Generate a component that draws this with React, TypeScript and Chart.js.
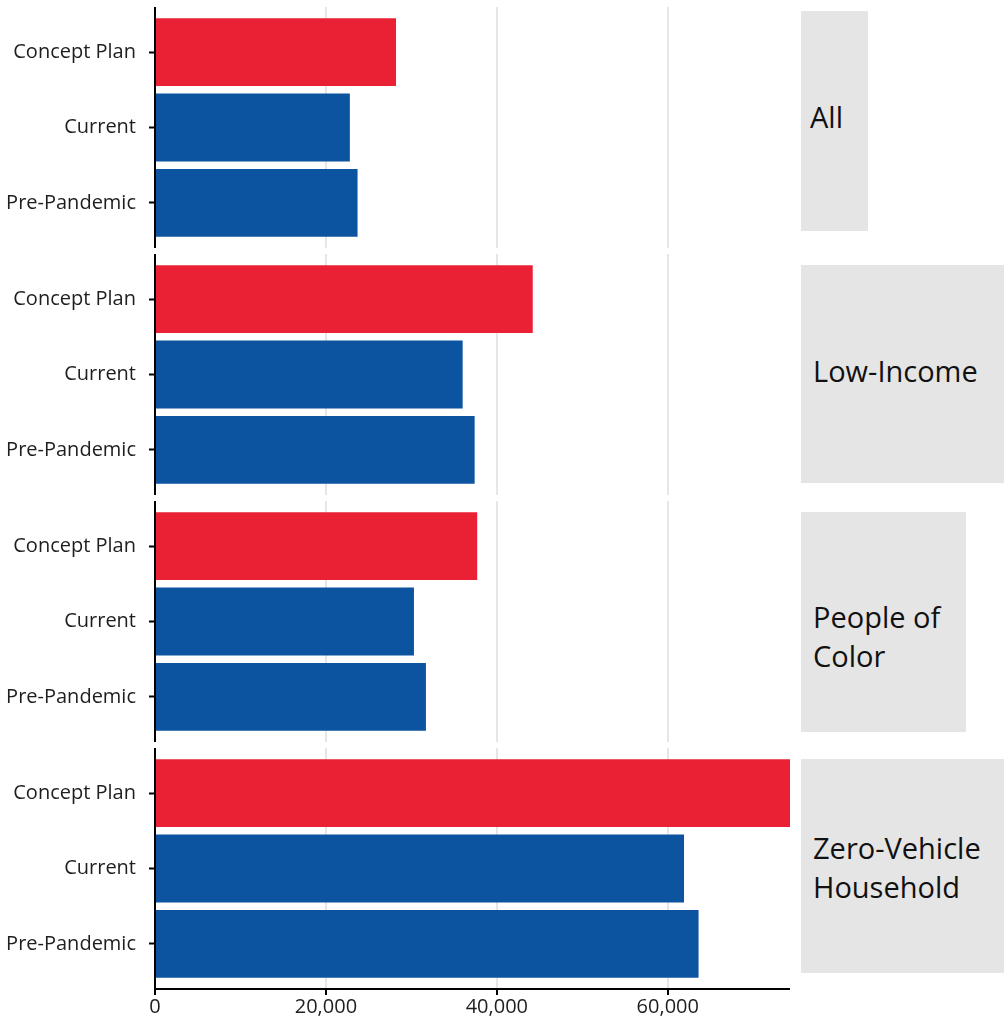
import React, { useEffect, useRef } from "react";
import { Chart, registerables } from "chart.js";

Chart.register(...registerables);

// ---- Data ----
const categories = ["Concept Plan", "Current", "Pre-Pandemic"];
const groups = ["All", "Low-Income", "People of Color", "Zero-Vehicle Household"];
const allValues = [28200, 22800, 23700];
const lowIncomeValues = [44200, 36000, 37400];
const peopleOfColorValues = [37700, 30300, 31700];
const zeroVehicleValues = [74300, 61900, 63600];
const xTicks = [0, 20000, 40000, 60000];
const xMax = 74300;

const groupValues = [allValues, lowIncomeValues, peopleOfColorValues, zeroVehicleValues];

// ---- Styles ----
const RED = "#EA2034";
const BLUE = "#0C53A0";
const barColors = [RED, BLUE, BLUE];
const FONT = "'Open Sans', 'Noto Sans', sans-serif";

const PANEL_TOPS = [7, 254, 501, 748];
const PANEL_H = 241;
const AXIS_H = 30;
const STRIPS = [
  { left: 801, top: 11, width: 67, height: 220, shift: -5, pad: 9 },
  { left: 801, top: 265, width: 203, height: 218, shift: -4, pad: 12 },
  { left: 801, top: 512, width: 165, height: 220, shift: 14, pad: 12 },
  { left: 801, top: 759, width: 203, height: 214, shift: 1, pad: 12 },
];

function Panel({ values, bottom, top }: { values: number[]; bottom: boolean; top: number }) {
  const ref = useRef<HTMLCanvasElement | null>(null);
  useEffect(() => {
    if (!ref.current) return;
    const chart = new Chart(ref.current, {
      type: "bar",
      data: {
        datasets: [
          {
            data: values.map((v, i) => ({ x: v, y: i + 1 })),
            backgroundColor: barColors,
            borderWidth: 0,
            barPercentage: 0.9,
            categoryPercentage: 1,
          },
        ],
      },
      options: {
        indexAxis: "y",
        animation: false,
        responsive: false,
        devicePixelRatio: 1,
        layout: { padding: 0 },
        plugins: { legend: { display: false }, tooltip: { enabled: false } },
        scales: {
          y: {
            type: "linear",
            min: 0.4,
            max: 3.6,
            offset: false,
            reverse: true,
            afterBuildTicks: (s: any) => {
              s.ticks = categories.map((_, i) => ({ value: i + 1 }));
            },
            afterFit: (s: any) => {
              s.width = 155;
              s.paddingTop = 0;
              s.paddingBottom = 0;
            },
            ticks: {
              callback: (v: any) => categories[Number(v) - 1] ?? "",
              font: { family: FONT, size: 20 },
              color: "#1e1e1e",
              padding: 13,
            },
            grid: {
              offset: false,
              drawOnChartArea: false,
              drawTicks: true,
              tickLength: 6,
              tickColor: "#000",
              tickWidth: 2,
            },
            border: { display: true, color: "#000", width: 2 },
          },
          x: {
            type: "linear",
            min: 0,
            max: xMax,
            afterBuildTicks: (s: any) => {
              s.ticks = xTicks.map((v) => ({ value: v }));
            },
            afterFit: (s: any) => {
              s.height = bottom ? AXIS_H : 0;
            },
            ticks: {
              display: bottom,
              callback: (v: any) => Number(v).toLocaleString("en-US"),
              font: { family: FONT, size: 20 },
              color: "#1e1e1e",
              padding: 0,
              maxRotation: 0,
            },
            grid: {
              color: (ctx: any) => (ctx.tick && ctx.tick.value === 0 ? "rgba(0,0,0,0)" : "#e6e6e6"),
              lineWidth: 2,
              drawTicks: bottom,
              tickLength: 6,
              tickColor: "#000",
              tickWidth: 2,
            },
            border: { display: bottom, color: "#000", width: 2 },
          },
        },
      },
    } as any);
    return () => chart.destroy();
  }, [values, bottom]);
  const h = PANEL_H + (bottom ? AXIS_H : 0);
  return (
    <canvas
      ref={ref}
      width={790}
      height={h}
      style={{ position: "absolute", left: 0, top, width: 790, height: h }}
    />
  );
}

export default function App() {
  return (
    <div
      style={{
        position: "absolute",
        left: 0,
        top: 0,
        width: 1004,
        height: 1019,
        overflow: "hidden",
        background: "#fff",
      }}
    >
      {groupValues.map((vals, i) => (
        <Panel key={groups[i]} values={vals} bottom={i === groupValues.length - 1} top={PANEL_TOPS[i]} />
      ))}
      {groups.map((g, i) => {
        const s = STRIPS[i];
        return (
          <div
            key={g}
            style={{
              position: "absolute",
              left: s.left,
              top: s.top,
              width: s.width,
              height: s.height,
              background: "#e5e5e5",
              display: "flex",
              alignItems: "center",
              boxSizing: "border-box",
              paddingLeft: s.pad,
              fontFamily: FONT,
              fontSize: 29,
              lineHeight: "39px",
              color: "#111",
            }}
          >
            <span style={{ position: "relative", top: s.shift }}>{g}</span>
          </div>
        );
      })}
    </div>
  );
}
